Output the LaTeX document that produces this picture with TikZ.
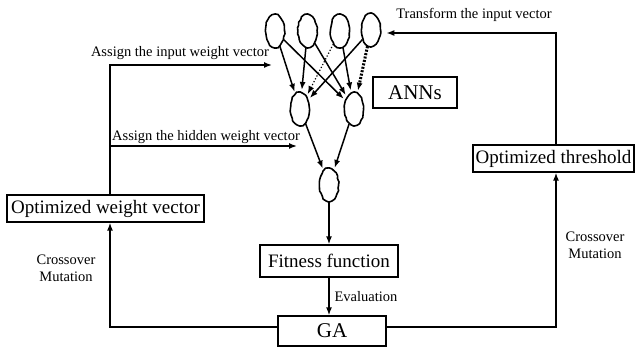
\documentclass[tikz,border=0pt]{standalone}
\usepackage{fontspec}
\setmainfont{Liberation Serif}
\usetikzlibrary{arrows.meta,shapes.geometric,decorations.pathmorphing}

\tikzstyle{neuron} = [ellipse, draw, line width=1.6pt, minimum width=19pt, minimum height=33pt, inner sep=0pt, decorate, decoration={random steps, segment length=3pt, amplitude=0.5pt}]
\tikzstyle{block} = [rectangle, draw, line width=1.3pt, inner sep=0pt, font=\fontsize{19}{21}\selectfont]
\tikzstyle{lbl} = [inner sep=0pt, align=center, font=\fontsize{14.5}{17}\selectfont]
\tikzstyle{arrow} = [line width=1.5pt, -{Latex[length=8pt,width=6pt]}]

\begin{document}
\begin{tikzpicture}[x=1pt,y=-1pt]
      \pgfmathsetseed{7}
      \useasboundingbox (0,0) rectangle (636,347);
      % input, hidden and output neurons
      \node[neuron] (i1) at (275,31) {};
      \node[neuron] (i2) at (307.5,31) {};
      \node[neuron] (i3) at (340,31) {};
      \node[neuron] (i4) at (371,30) {};
      \node[neuron] (h1) at (300,109) {};
      \node[neuron] (h2) at (354,109) {};
      \node[neuron] (o) at (329,185) {};
      % blocks
      \node[block, minimum width=84pt, minimum height=31pt, font=\fontsize{21}{23}\selectfont] (anns) at (415,92.5) {ANNs};
      \node[block, minimum width=161pt, minimum height=27pt] (thr) at (553.5,158.5) {Optimized threshold};
      \node[block, minimum width=197pt, minimum height=27pt] (wv) at (105.5,208.5) {Optimized weight vector};
      \node[block, minimum width=138pt, minimum height=32pt] (fit) at (329,261) {Fitness function};
      \node[block, minimum width=108pt, minimum height=30pt, font=\fontsize{21}{23}\selectfont] (ga) at (332,331) {GA};
      \coordinate (lb) at (110,327);
      \coordinate (rb) at (556,327);
      \coordinate (rt) at (556,33);
      \coordinate (ai) at (272,65);
      \coordinate (ah) at (297,146);
      % weights between the layers
      \draw[arrow, shorten >=2pt] (i1) -- (h1);
      \draw[arrow, shorten >=2pt] (i1) -- (h2);
      \draw[arrow, shorten >=2pt] (i2) -- (h1);
      \draw[arrow, shorten >=2pt] (i2) -- (h2);
      \draw[arrow, shorten >=2pt, line width=1.2pt, dotted] (i3) -- (h1);
      \draw[arrow, shorten >=2pt] (i3) -- (h2);
      \draw[arrow, shorten >=2pt] (i4) -- (h1);
      \draw[arrow, shorten >=2pt, line width=3pt, dash pattern=on 2pt off 1.5pt] (i4) -- (h2);
      \draw[arrow, shorten >=2pt] (h1) -- (o);
      \draw[arrow, shorten >=2pt] (h2) -- (o);
      % GA loop
      \draw[arrow] (o) -- (o |- fit.north);
      \draw[arrow] (fit) -- (fit |- ga.north);
      \draw[arrow] (ga.west |- lb) -- (lb) -- (lb |- wv.south);
      \draw[arrow] (ga.east |- rb) -- (rb) -- (rb |- thr.south);
      \draw[arrow, shorten >=5pt] (rb |- thr.north) -- (rt) -- (rt -| i4.east);
      \draw[arrow] (lb |- wv.north) -- (lb |- ai) -- (ai);
      \draw[arrow] (lb |- ah) -- (ah);
      % labels
      \node[lbl] (lin) at (180,53) {Assign the input weight vector};
      \node[lbl] (lhid) at (206,137) {Assign the hidden weight vector};
      \node[lbl] (ltr) at (474,15) {Transform the input vector};
      \node[lbl] (lev) at (366,297) {Evaluation};
      \node[lbl] (lcl) at (66,268) {Crossover\\Mutation};
      \node[lbl] (lcr) at (595,245) {Crossover\\Mutation};
\end{tikzpicture}
\end{document}
